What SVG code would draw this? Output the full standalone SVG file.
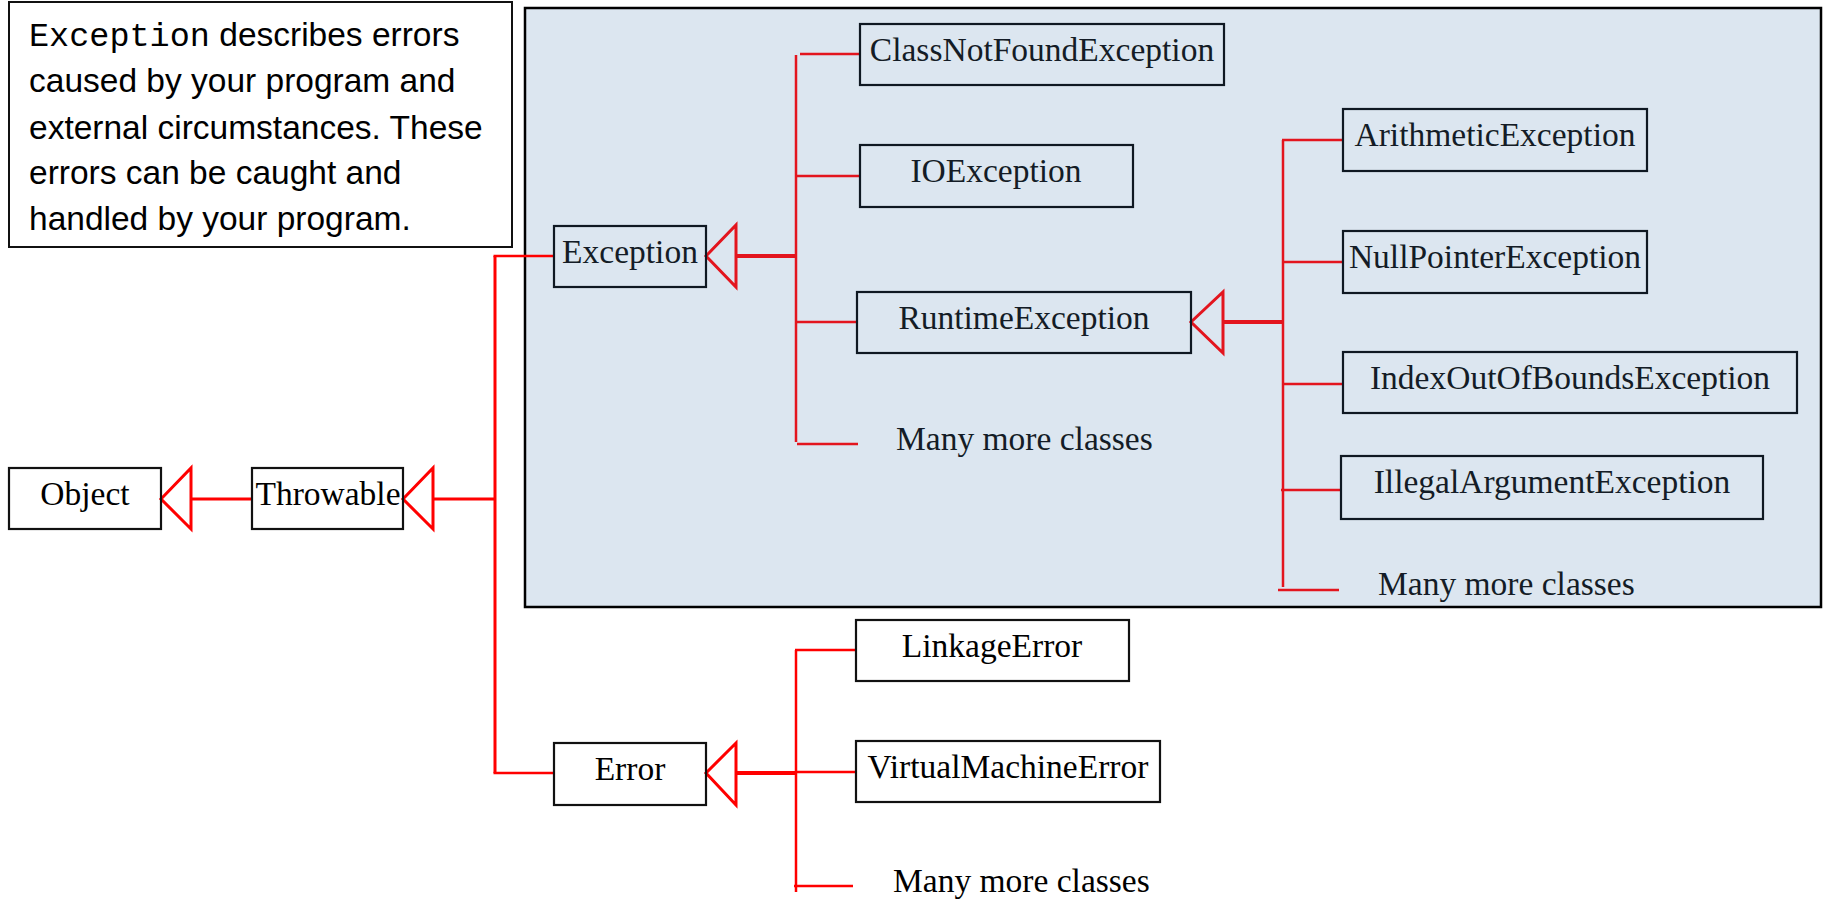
<svg xmlns="http://www.w3.org/2000/svg" width="1825" height="899" viewBox="0 0 1825 899">
<style>
.box{fill:none;stroke:#111;stroke-width:2.2}
.ibox{fill:none;stroke:#0f1822;stroke-width:2.2}
.lbl{font-family:"Liberation Serif","Times New Roman",serif;font-size:33.5px;fill:#000;text-anchor:middle}
.ilbl{font-family:"Liberation Serif","Times New Roman",serif;font-size:33.5px;fill:#141c26;text-anchor:middle}
.more{font-family:"Liberation Serif","Times New Roman",serif;font-size:33.5px;fill:#141c26}
.note{font-family:"Liberation Sans",Arial,sans-serif;font-size:33.5px;fill:#000}
.mono{font-family:"Liberation Mono","Courier New",monospace}
.r{stroke:#ff0000;stroke-width:2.5;fill:none}
.ri{stroke:#e3151e;stroke-width:2.5;fill:none}
.thick{stroke-width:4}
.tri{fill:none;stroke:#ff0000;stroke-width:3}
.trii{fill:none;stroke:#e3151e;stroke-width:3}
</style>
<rect x="0" y="0" width="1825" height="899" fill="#fff"/>
<g id="container">
<rect x="525" y="8" width="1296" height="599" fill="#dce6f0" stroke="#000" stroke-width="2.5"/>
</g>
<g id="note">
<rect x="9" y="2" width="503" height="245" fill="#fff" stroke="#111" stroke-width="2"/>
<text class="note" x="29" y="46"><tspan class="mono">Exception</tspan> describes errors</text>
<text class="note" x="29" y="92">caused by your program and</text>
<text class="note" x="29" y="139">external circumstances. These</text>
<text class="note" x="29" y="184">errors can be caught and</text>
<text class="note" x="29" y="230">handled by your program.</text>
</g>
<g id="connectors">
<line class="r" x1="191" y1="499" x2="252" y2="499" style="stroke-width:3"/>
<line class="r" x1="433" y1="499" x2="495" y2="499" style="stroke-width:3"/>
<line class="r" x1="495" y1="256" x2="495" y2="773" style="stroke-width:3"/>
<line class="r" x1="493.5" y1="256" x2="554" y2="256"/>
<line class="r" x1="493.5" y1="773" x2="554" y2="773"/>
<polygon class="tri" points="161,499 191,468 191,529"/>
<polygon class="tri" points="403,499 433,468 433,529"/>
<polygon class="trii" points="706,256 736,225 736,287"/>
<line class="ri thick" x1="736" y1="256" x2="797" y2="256"/>
<line class="ri" x1="796" y1="55" x2="796" y2="442"/>
<line class="ri" x1="800" y1="54" x2="860" y2="54"/>
<line class="ri" x1="796" y1="176" x2="860" y2="176"/>
<line class="ri" x1="796" y1="322" x2="857" y2="322"/>
<line class="ri" x1="797" y1="444" x2="858" y2="444"/>
<polygon class="trii" points="1191,322 1223,292 1223,353"/>
<line class="ri thick" x1="1223" y1="322" x2="1284" y2="322"/>
<line class="ri" x1="1283" y1="140" x2="1283" y2="587"/>
<line class="ri" x1="1282" y1="140" x2="1343" y2="140"/>
<line class="ri" x1="1283" y1="262" x2="1343" y2="262"/>
<line class="ri" x1="1283" y1="384" x2="1343" y2="384"/>
<line class="ri" x1="1281" y1="490" x2="1341" y2="490"/>
<line class="ri" x1="1278" y1="590" x2="1339" y2="590"/>
<polygon class="tri" points="706,773 736,743 736,805"/>
<line class="r thick" x1="736" y1="773" x2="797" y2="773"/>
<line class="r" x1="796" y1="650" x2="796" y2="892"/>
<line class="r" x1="795" y1="650" x2="856" y2="650"/>
<line class="r" x1="796" y1="772" x2="856" y2="772"/>
<line class="r" x1="794" y1="886" x2="853" y2="886"/>
</g>
<g id="Object"><rect class="box" x="9" y="468" width="152" height="61"/><text class="lbl" x="85" y="505">Object</text></g>
<g id="Throwable"><rect class="box" x="252" y="468" width="151" height="61"/><text class="lbl" x="328" y="505">Throwable</text></g>
<g id="Exception"><rect class="ibox" x="554" y="226" width="152" height="61"/><text class="ilbl" x="630" y="263">Exception</text></g>
<g id="Error"><rect class="box" x="554" y="743" width="152" height="62"/><text class="lbl" x="630" y="780">Error</text></g>
<g id="ClassNotFoundException"><rect class="ibox" x="860" y="24" width="364" height="61"/><text class="ilbl" x="1042" y="61">ClassNotFoundException</text></g>
<g id="IOException"><rect class="ibox" x="860" y="145" width="273" height="62"/><text class="ilbl" x="996" y="182">IOException</text></g>
<g id="RuntimeException"><rect class="ibox" x="857" y="292" width="334" height="61"/><text class="ilbl" x="1024" y="329">RuntimeException</text></g>
<g id="ExceptionMore"><text class="more" x="896" y="450">Many more classes</text></g>
<g id="ArithmeticException"><rect class="ibox" x="1343" y="109" width="304" height="62"/><text class="ilbl" x="1495" y="146">ArithmeticException</text></g>
<g id="NullPointerException"><rect class="ibox" x="1343" y="231" width="304" height="62"/><text class="ilbl" x="1495" y="268">NullPointerException</text></g>
<g id="IndexOutOfBoundsException"><rect class="ibox" x="1343" y="352" width="454" height="61"/><text class="ilbl" x="1570" y="389">IndexOutOfBoundsException</text></g>
<g id="IllegalArgumentException"><rect class="ibox" x="1341" y="456" width="422" height="63"/><text class="ilbl" x="1552" y="493">IllegalArgumentException</text></g>
<g id="RuntimeMore"><text class="more" x="1378" y="595">Many more classes</text></g>
<g id="LinkageError"><rect class="box" x="856" y="620" width="273" height="61"/><text class="lbl" x="992" y="657">LinkageError</text></g>
<g id="VirtualMachineError"><rect class="box" x="856" y="741" width="304" height="61"/><text class="lbl" x="1008" y="778">VirtualMachineError</text></g>
<g id="ErrorMore"><text class="more" x="893" y="892" style="fill:#000">Many more classes</text></g>
</svg>
